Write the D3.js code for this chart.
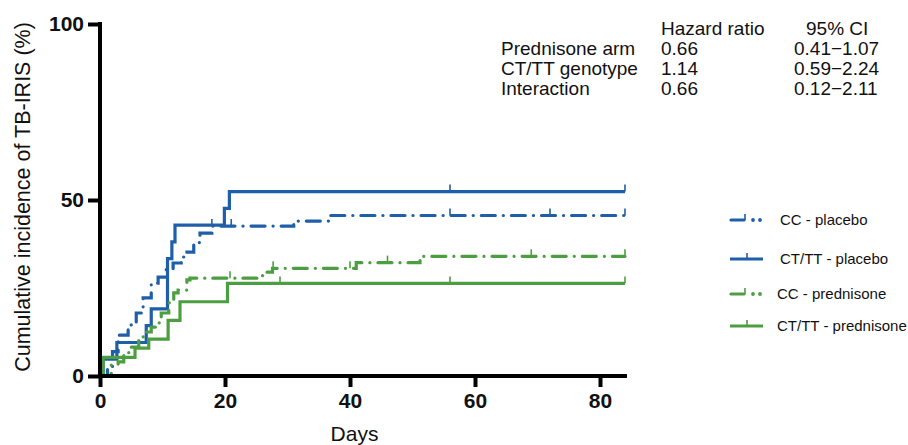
<!DOCTYPE html>
<html lang="en">
<head>
<meta charset="UTF-8">
<title>TB-IRIS cumulative incidence</title>
<style>
  body { margin: 0; background: #fff; }
  svg { display: block; font-family: "Liberation Sans", Arial, sans-serif; }
  .tick text { font-weight: bold; font-size: 21px; fill: #111; }
  .tbl { font-size: 19px; fill: #111; }
  .leg { font-size: 15px; fill: #111; }
</style>
</head>
<body>
<svg id="chart" width="908" height="445"></svg>
<script src="https://cdnjs.cloudflare.com/ajax/libs/d3/7.8.5/d3.min.js"></script>
<script>
// ---- data ----
const xTicks = [0, 20, 40, 60, 80];
const yTicks = [0, 50, 100];

// step curves: day of each step, cumulative incidence (%) after it
const ccPlaceboDays = [0, 1.2, 2, 2.9, 4.5, 5.8, 6.9, 8.2, 9.3, 10.5, 11.7, 13, 13.9, 15, 16, 17.9, 31, 36.8, 84];
const ccPlaceboPct  = [0, 2.6, 6.9, 11.6, 14.5, 17.9, 22.2, 26.4, 28.1, 30.2, 32.1, 33.8, 35.2, 37.9, 40.6, 42.6, 44.0, 45.6, 45.6];
const ctPlaceboDays = [0, 0.5, 2.7, 7.4, 8.2, 10.8, 11.5, 12, 19.9, 20.7, 84];
const ctPlaceboPct  = [0, 4.76, 9.52, 14.29, 19.05, 33.33, 38.10, 42.86, 47.62, 52.38, 52.38];
const ccPredDays = [0, 1.8, 2.9, 3.8, 4.6, 6.2, 7, 8.2, 9.3, 9.8, 11, 11.8, 12.5, 13.9, 14.4, 26, 27.6, 41, 51.2, 84];
const ccPredPct  = [0, 3.1, 4.0, 6.0, 8.2, 11.1, 12.5, 13.9, 15.1, 17.9, 20.8, 23.6, 24.4, 27.3, 27.8, 29.5, 30.6, 32.2, 34.0, 34.0];
const ctPredDays = [0, 0.5, 5.6, 7.8, 10.9, 12.8, 20.4, 84];
const ctPredPct  = [0, 5.3, 7.9, 10.5, 15.8, 21.1, 26.3, 26.3];

// censoring marks (days)
const ccPlaceboCens = [17.9, 21, 56, 72, 84];
const ctPlaceboCens = [56, 84];
const ccPredCens = [20.8, 27.7, 40, 46, 69, 84];
const ctPredCens = [28.8, 56, 84];

const hrHeader = ["Hazard ratio", "95% CI"];
const hrTerms = ["Prednisone arm", "CT/TT genotype", "Interaction"];
const hrValues = ["0.66", "1.14", "0.66"];
const hrCI = ["0.41\u22121.07", "0.59\u22122.24", "0.12\u22122.11"];

const blue = "#1f5ea8";
const green = "#4c9f40";

const series = [
  { name: "CC - placebo", days: ccPlaceboDays, pct: ccPlaceboPct, cens: ccPlaceboCens, color: blue, dashed: true },
  { name: "CT/TT - placebo", days: ctPlaceboDays, pct: ctPlaceboPct, cens: ctPlaceboCens, color: blue, dashed: false },
  { name: "CC - prednisone", days: ccPredDays, pct: ccPredPct, cens: ccPredCens, color: green, dashed: true },
  { name: "CT/TT - prednisone", days: ctPredDays, pct: ctPredPct, cens: ctPredCens, color: green, dashed: false }
];

// ---- scales ----
const svg = d3.select("#chart");
const x = d3.scaleLinear().domain([0, 84]).range([100, 625]);
const y = d3.scaleLinear().domain([0, 100]).range([376, 24]);

// value of a step curve at day t
function stepAt(s, t) {
  let v = 0;
  s.days.forEach((d, i) => { if (d <= t) v = s.pct[i]; });
  return v;
}

// ---- curves ----
const line = d3.line().curve(d3.curveStepAfter).x(d => x(d[0])).y(d => y(d[1]));
const curves = svg.append("g");
series.forEach(s => {
  const pts = s.days.map((d, i) => [d, s.pct[i]]);
  curves.append("path")
    .attr("d", line(pts))
    .attr("fill", "none")
    .attr("stroke", s.color)
    .attr("stroke-width", 3.2)
    .attr("stroke-linecap", s.dashed ? "round" : "butt")
    .attr("stroke-dasharray", s.dashed ? "14 8 0.1 8" : null);

  curves.selectAll(null)
    .data(s.cens)
    .join("line")
    .attr("x1", d => x(d)).attr("x2", d => x(d))
    .attr("y1", d => y(stepAt(s, d)))
    .attr("y2", d => y(stepAt(s, d)) - 7)
    .attr("stroke", s.color)
    .attr("stroke-width", 1.6);
});

// ---- axes ----
const yAxis = svg.append("g")
  .attr("transform", `translate(${x(0)},0)`)
  .call(d3.axisLeft(y).tickValues(yTicks).tickSize(12).tickPadding(4));
const xAxis = svg.append("g")
  .attr("transform", `translate(0,${y(0)})`)
  .call(d3.axisBottom(x).tickValues(xTicks).tickSize(11).tickPadding(6));
[yAxis, xAxis].forEach(a => {
  a.select(".domain").remove();
  a.selectAll(".tick line").attr("stroke", "#000").attr("stroke-width", 4);
  a.selectAll(".tick text").attr("fill", "#111");
});
svg.append("line")
  .attr("x1", x(0)).attr("x2", x(0))
  .attr("y1", y(100) - 2).attr("y2", y(0) + 2)
  .attr("stroke", "#000").attr("stroke-width", 4);
svg.append("line")
  .attr("x1", x(0) - 2).attr("x2", x(84) + 2)
  .attr("y1", y(0)).attr("y2", y(0))
  .attr("stroke", "#000").attr("stroke-width", 4);

svg.append("text")
  .attr("transform", "translate(30,197) rotate(-90)")
  .attr("text-anchor", "middle")
  .attr("font-size", 21.5)
  .attr("fill", "#111")
  .text("Cumulative incidence of TB-IRIS (%)");
svg.append("text")
  .attr("x", (x(0) + x(84)) / 2 - 8)
  .attr("y", 441)
  .attr("text-anchor", "middle")
  .attr("font-size", 21)
  .attr("fill", "#111")
  .text("Days");

// ---- hazard ratio table ----
const tbl = svg.append("g").attr("class", "tbl");
tbl.append("text").attr("x", 661).attr("y", 35).text(hrHeader[0]);
tbl.append("text").attr("x", 806).attr("y", 35).text(hrHeader[1]);
hrTerms.forEach((t, i) => {
  const by = 55 + i * 20;
  tbl.append("text").attr("x", 501).attr("y", by).text(t);
  tbl.append("text").attr("x", 661).attr("y", by).text(hrValues[i]);
  tbl.append("text").attr("x", 794).attr("y", by).text(hrCI[i]);
});

// ---- legend ----
const legRows = [220, 259, 294, 326];
const leg = svg.append("g");
series.forEach((s, i) => {
  const g = leg.append("g").attr("transform", `translate(0,${legRows[i]})`);
  if (s.dashed) {
    g.append("line").attr("x1", 731).attr("x2", 744).attr("y1", 0).attr("y2", 0)
      .attr("stroke", s.color).attr("stroke-width", 3.2).attr("stroke-linecap", "round");
    g.append("line").attr("x1", 745).attr("x2", 745).attr("y1", 0).attr("y2", -6)
      .attr("stroke", s.color).attr("stroke-width", 1.6);
    [753, 760].forEach(cx => g.append("circle").attr("cx", cx).attr("cy", 0).attr("r", 1.9).attr("fill", s.color));
  } else {
    g.append("line").attr("x1", 730).attr("x2", 763).attr("y1", 0).attr("y2", 0)
      .attr("stroke", s.color).attr("stroke-width", 3.2);
    g.append("line").attr("x1", 747).attr("x2", 747).attr("y1", 0).attr("y2", -6)
      .attr("stroke", s.color).attr("stroke-width", 1.6);
  }
  g.append("text").attr("class", "leg")
    .attr("x", i < 2 ? 780 : 777).attr("y", 5)
    .text(s.name);
});
</script>
</body>
</html>
